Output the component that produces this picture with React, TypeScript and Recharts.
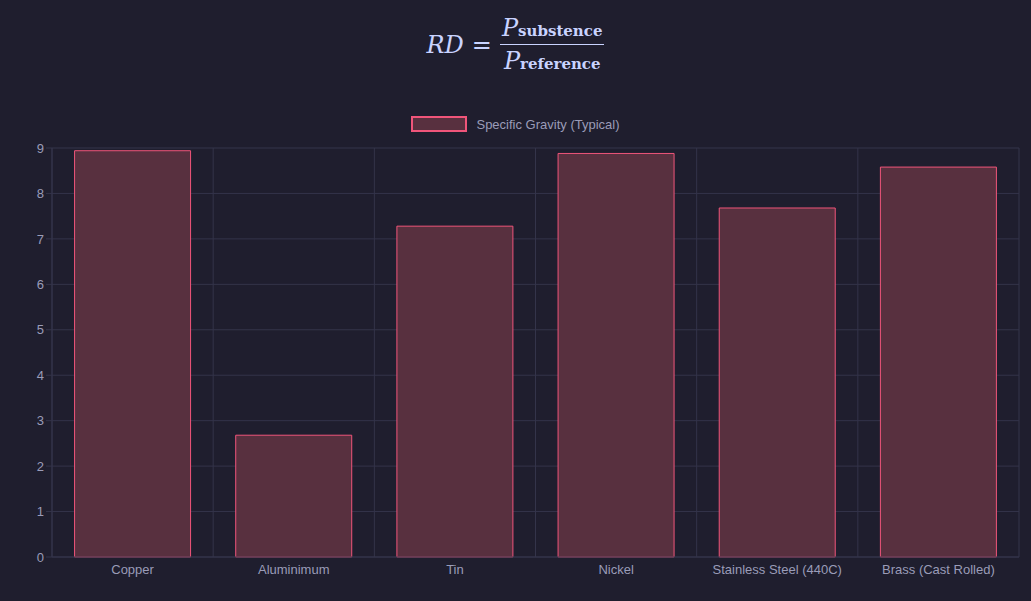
import { Bar, BarChart, CartesianGrid, XAxis, YAxis } from "recharts";

const materials = ["Copper", "Aluminimum", "Tin", "Nickel", "Stainless Steel (440C)", "Brass (Cast Rolled)"];
const gravity = [8.94, 2.68, 7.28, 8.88, 7.68, 8.58];
const yTicks = [0, 1, 2, 3, 4, 5, 6, 7, 8, 9];

const BG = "#1f1e2e";
const GRID = "#34344a";
const TEXT = "#9a9cb8";
const EDGE = "#f0557a";
const FILL = "#58303f";

const data = materials.map((name, i) => ({ name, value: gravity[i] }));

export default function App() {
  const font = "'Liberation Sans', Arial, sans-serif";
  return (
    <div style={{ position: "fixed", left: 0, top: 0, width: 1031, height: 601, background: BG, fontFamily: font }}>
      <div style={{ position: "absolute", top: 14, left: 0, width: 1031, display: "flex", justifyContent: "center", alignItems: "center", color: "#c9d3ff", fontFamily: "'DejaVu Serif', 'Liberation Serif', serif", fontSize: 24 }}>
        <span style={{ fontStyle: "italic" }}>RD</span>
        <span style={{ margin: "0 8px" }}>=</span>
        <span style={{ display: "inline-flex", flexDirection: "column", alignItems: "center" }}>
          <span style={{ borderBottom: "1.5px solid #c9d3ff", padding: "0 2px 2px" }}>
            <i>P</i><span style={{ fontSize: 15, fontWeight: "bold" }}>substence</span>
          </span>
          <span style={{ paddingTop: 2 }}>
            <i>P</i><span style={{ fontSize: 15, fontWeight: "bold" }}>reference</span>
          </span>
        </span>
      </div>
      <div style={{ position: "absolute", top: 116, left: 0, width: 1031, display: "flex", justifyContent: "center", alignItems: "center", color: TEXT, fontSize: 13 }}>
        <span style={{ width: 56, height: 16, background: FILL, border: `2px solid ${EDGE}`, boxSizing: "border-box", marginRight: 9 }} />
        Specific Gravity (Typical)
      </div>
      <div style={{ position: "absolute", top: 140, left: 0 }}>
        <BarChart width={1031} height={461} data={data} margin={{ top: 8, right: 12, left: 0, bottom: 14 }} barCategoryGap="14%">
          <CartesianGrid
            stroke={GRID}
            verticalCoordinatesGenerator={({ offset }: any) =>
              materials.map((_, i) => offset.left + (offset.width * i) / materials.length).concat(offset.left + offset.width)
            }
          />
          <XAxis dataKey="name" tick={{ fill: TEXT, fontSize: 13 }} tickLine={false} axisLine={{ stroke: GRID }} interval={0} height={30} />
          <YAxis domain={[0, 9]} ticks={yTicks} tick={{ fill: TEXT, fontSize: 13 }} tickLine={{ stroke: GRID }} axisLine={{ stroke: GRID }} width={52} />
          <Bar dataKey="value" fill={FILL} stroke={EDGE} strokeWidth={1} isAnimationActive={false} />
        </BarChart>
      </div>
    </div>
  );
}
